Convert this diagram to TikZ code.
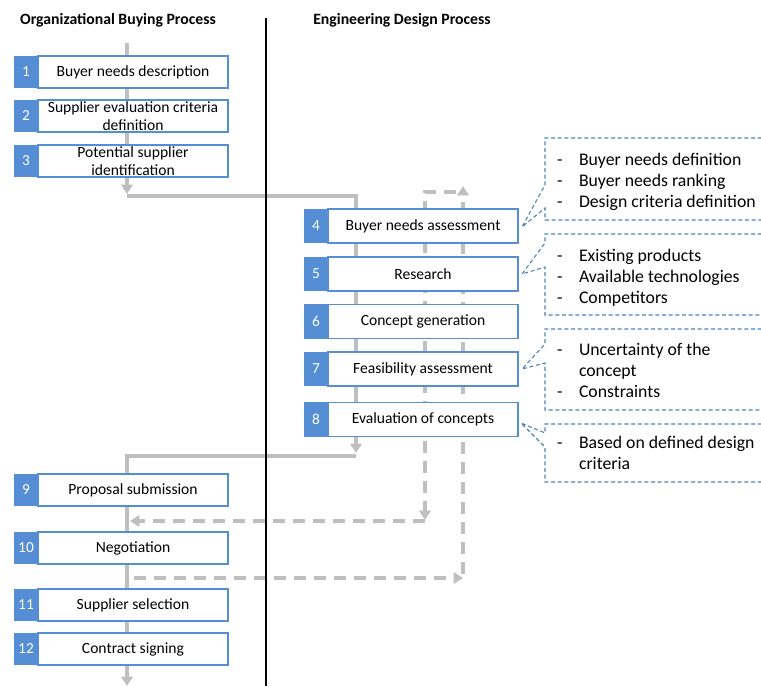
\documentclass[tikz,border=0pt]{standalone}
\usepackage{fontspec}
\setmainfont{Carlito}
\usetikzlibrary{arrows.meta,backgrounds}
\definecolor{flowgrey}{HTML}{BFBFBF}
\definecolor{stepblue}{HTML}{558ED5}
\definecolor{calloutblue}{HTML}{4F81BD}
\begin{document}
\begin{tikzpicture}[x=0.75pt,y=-0.75pt,
  every node/.style={inner sep=0pt, outer sep=0pt},
  stepbox/.style={draw=stepblue, line width=0.9pt, fill=white, minimum width=142.5pt, align=center, font=\fontsize{11.7}{13.8}\selectfont},
  lbox/.style={stepbox, minimum height=24pt},
  rbox/.style={stepbox, minimum height=25.5pt},
  numbox/.style={fill=stepblue, text=white, minimum width=18pt, font=\fontsize{11.5}{13.8}\selectfont},
  lnum/.style={numbox, minimum height=24.6pt},
  rnum/.style={numbox, minimum height=26.1pt},
  flow/.style={draw=flowgrey, line width=2.6pt},
  flowdash/.style={flow, dash pattern=on 9pt off 6pt},
  tip/.style={-{Triangle[width=8.5pt,length=7pt]}},
  callout/.style={draw=calloutblue, line width=0.8pt, dash pattern=on 3pt off 2pt},
  ctext/.style={anchor=base west, font=\fontsize{13.3}{15.75}\selectfont},
  header/.style={font=\bfseries\fontsize{11.8}{13.8}\selectfont}
]
\useasboundingbox (0,0) rectangle (761,686);

% headers
\node[header] (h1) at (118,20) {Organizational Buying Process};
\node[header] (h2) at (402,20) {Engineering Design Process};

% left column, steps 1-3
\node[lbox] (b1) at (133,72) {Buyer needs description};
\node[lnum] (n1) at (26,72) {1};
\node[lbox] (b2) at (133,116) {Supplier evaluation criteria\\definition};
\node[lnum] (n2) at (26,116) {2};
\node[lbox] (b3) at (133,161) {Potential supplier\\identification};
\node[lnum] (n3) at (26,161) {3};

% right column, steps 4-8
\node[rbox] (b4) at (423,226) {Buyer needs assessment};
\node[rnum] (n4) at (316,226) {4};
\node[rbox] (b5) at (423,274) {Research};
\node[rnum] (n5) at (316,274) {5};
\node[rbox] (b6) at (423,321.5) {Concept generation};
\node[rnum] (n6) at (316,321.5) {6};
\node[rbox] (b7) at (423,369) {Feasibility assessment};
\node[rnum] (n7) at (316,369) {7};
\node[rbox] (b8) at (423,419.5) {Evaluation of concepts};
\node[rnum] (n8) at (316,419.5) {8};

% left column, steps 9-12
\node[lbox] (b9) at (133,490) {Proposal submission};
\node[lnum] (n9) at (26,490) {9};
\node[lbox] (b10) at (133,548) {Negotiation};
\node[lnum] (n10) at (26,548) {10};
\node[lbox] (b11) at (133,605) {Supplier selection};
\node[lnum] (n11) at (26,605) {11};
\node[lbox] (b12) at (133,649) {Contract signing};
\node[lnum] (n12) at (26,649) {12};

% flow coordinates
\coordinate (s0) at (127,43);
\coordinate (e1) at (127,194);
\coordinate (s1) at (127,196);
\coordinate (k1) at (356,196);
\coordinate (e2) at (356,453);
\coordinate (s2) at (356,456);
\coordinate (k2) at (127,456);
\coordinate (e3) at (127,686);
% dashed feedback coordinates
\coordinate (d1s) at (456,192);
\coordinate (d1k) at (425,192);
\coordinate (d1e) at (425,520);
\coordinate (d2s) at (425,521);
\coordinate (d2e) at (130,521);
\coordinate (d3s) at (134,578);
\coordinate (d3e) at (463,578);
\coordinate (d4s) at (463,574);
\coordinate (d4e) at (463,186);

\begin{pgfonlayer}{background}
  \draw[flow,tip] (s0) -- (e1);
  \draw[flow,tip] (s1) -- (k1) -- (e2);
  \draw[flow,tip] (s2) -- (k2) -- (e3);
  \draw[flowdash,tip] (d1s) -- (d1k) -- (d1e);
  \draw[flowdash,tip] (d2s) -- (d2e);
  \draw[flowdash,tip] (d3s) -- (d3e);
  \draw[flowdash,tip] (d4s) -- (d4e);
\end{pgfonlayer}

% divider
\coordinate (v1) at (266,18);
\coordinate (v2) at (266,686);
\draw[line width=1.5pt] (v1) -- (v2);

% callouts
\begin{scope}
  \clip (0,0) rectangle (761,686);
  \draw[callout] (775,138) -- (545,138) -- (545,185) -- (522,227) -- (545,208) -- (545,220) -- (775,220);
  \draw[callout] (775,234) -- (545,234) -- (545,243) -- (522,274) -- (545,267) -- (545,315) -- (775,315);
  \draw[callout] (775,329) -- (545,329) -- (545,344) -- (522,369) -- (545,363) -- (545,410) -- (775,410);
  \draw[callout] (775,424) -- (545,424) -- (545,433) -- (521,423) -- (545,447) -- (545,482) -- (775,482);
\end{scope}

% callout texts
\node[ctext] (c1d1) at (557,165) {-};
\node[ctext] (c1t1) at (579,165) {Buyer needs definition};
\node[ctext] (c1d2) at (557,186) {-};
\node[ctext] (c1t2) at (579,186) {Buyer needs ranking};
\node[ctext] (c1d3) at (557,207) {-};
\node[ctext] (c1t3) at (579,207) {Design criteria definition};

\node[ctext] (c2d1) at (557,261) {-};
\node[ctext] (c2t1) at (579,261) {Existing products};
\node[ctext] (c2d2) at (557,282) {-};
\node[ctext] (c2t2) at (579,282) {Available technologies};
\node[ctext] (c2d3) at (557,303) {-};
\node[ctext] (c2t3) at (579,303) {Competitors};

\node[ctext] (c3d1) at (557,355.5) {-};
\node[ctext] (c3t1) at (579,355.5) {Uncertainty of the};
\node[ctext] (c3t1b) at (579,376.5) {concept};
\node[ctext] (c3d2) at (557,397.5) {-};
\node[ctext] (c3t2) at (579,397.5) {Constraints};

\node[ctext] (c4d1) at (557,448) {-};
\node[ctext] (c4t1) at (579,448) {Based on defined design};
\node[ctext] (c4t1b) at (579,469) {criteria};
\end{tikzpicture}
\end{document}
